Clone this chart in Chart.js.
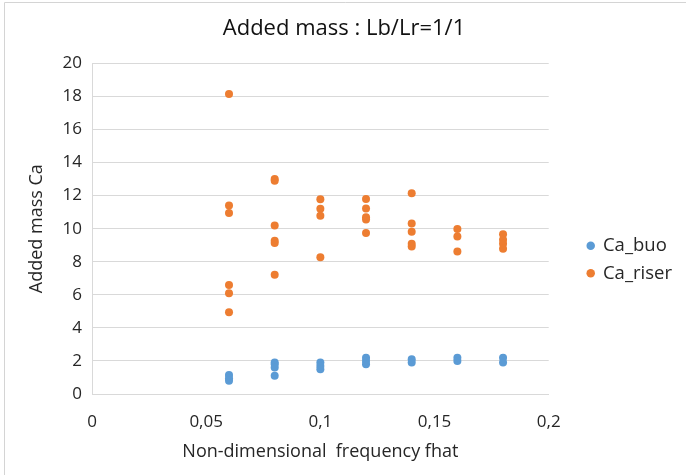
<!DOCTYPE html>
<html>
<head>
<meta charset="utf-8">
<script src="https://cdn.jsdelivr.net/npm/chart.js@4.4.0/dist/chart.umd.min.js"></script>
<style>
	html, body { margin: 0; padding: 0; background: #fff; }
	#wrap { width: 686px; height: 475px; position: relative; }
</style>
</head>
<body>
<div id="wrap"><canvas id="added-mass-chart"></canvas></div>
<script>
// frequencies (fhat) and values
var buoX   = [0.06, 0.06, 0.06, 0.08, 0.08, 0.08, 0.08, 0.1, 0.1, 0.1, 0.12, 0.12, 0.12, 0.14, 0.14, 0.16, 0.16, 0.18, 0.18];
var buoY   = [1.15, 0.95, 0.8, 1.9, 1.8, 1.6, 1.1, 1.9, 1.7, 1.5, 2.2, 2.0, 1.8, 2.1, 1.9, 2.2, 2.0, 2.2, 1.9];
var riserX = [0.06, 0.06, 0.06, 0.06, 0.06, 0.06, 0.08, 0.08, 0.08, 0.08, 0.08, 0.08, 0.1, 0.1, 0.1, 0.1, 0.12, 0.12, 0.12, 0.12, 0.12, 0.14, 0.14, 0.14, 0.14, 0.14, 0.16, 0.16, 0.16, 0.18, 0.18, 0.18, 0.18];
var riserY = [18.15, 11.4, 10.95, 6.6, 6.1, 4.95, 13.0, 12.9, 10.2, 9.27, 9.13, 7.22, 11.78, 11.2, 10.79, 8.28, 11.8, 11.22, 10.7, 10.55, 9.74, 12.15, 10.32, 9.82, 9.09, 8.92, 9.98, 9.53, 8.62, 9.67, 9.33, 9.09, 8.78];
var xTicks = [0, 0.05, 0.1, 0.15, 0.2];
var seriesNames = ['Ca_buo', 'Ca_riser'];
var seriesColours = ['#5B9BD5', '#ED7D31'];

function toPoints(xs, ys){
	var pts = [];
	for (var i = 0; i < xs.length; i++) {
		pts.push({ x: xs[i], y: ys[i] });
	}
	return pts;
}

var fontFamily = "'Open Sans', 'Noto Sans', sans-serif";
var textColour = '#262626';

var datasets = [
	{ label: seriesNames[0], data: toPoints(buoX, buoY) },
	{ label: seriesNames[1], data: toPoints(riserX, riserY) }
];
datasets.forEach(function(ds, i){
	ds.backgroundColor = seriesColours[i];
	ds.borderColor = seriesColours[i];
	ds.pointRadius = 4;
	ds.pointHoverRadius = 5;
	ds.borderWidth = 0;
});

// thin grey frame along top and left edge, like the pasted picture
var framePlugin = {
	id: 'frame',
	beforeDraw: function(chart){
		var c = chart.ctx;
		c.save();
		c.strokeStyle = '#d4d4d4';
		c.lineWidth = 1;
		c.beginPath();
		c.moveTo(4.5, chart.height);
		c.lineTo(4.5, 2.5);
		c.lineTo(chart.width, 2.5);
		c.stroke();
		c.restore();
	}
};

// legend sits further right and lower than chart.js puts it, push it over
// (title too, it is centred on the whole picture)
var legendShiftX = 30;
var legendShiftY = 26;
var titleShiftX = 7;
var legendShiftPlugin = {
	id: 'legendShift',
	afterLayout: function(chart){
		if (chart.legend) {
			chart.legend.left += legendShiftX;
			chart.legend.right += legendShiftX;
			chart.legend.top += legendShiftY;
			chart.legend.bottom += legendShiftY;
		}
		if (chart.titleBlock) {
			chart.titleBlock.left += titleShiftX;
			chart.titleBlock.right += titleShiftX;
		}
	}
};

const ctx = document.getElementById('added-mass-chart');

new Chart(ctx, {
	type: 'scatter',
	data: { datasets: datasets },
	plugins: [framePlugin, legendShiftPlugin],
	options: {
		responsive: true,
		maintainAspectRatio: false,
		animation: false,
		layout: { padding: { left: 22, right: 34, top: 0, bottom: 8 } },
		scales: {
			x: {
				type: 'linear',
				min: 0,
				max: 0.2,
				afterBuildTicks: function(scale){
					scale.ticks = xTicks.map(function(v){ return { value: v }; });
				},
				afterFit: function(scale){ scale.height = 73; },
				grid: { display: false, drawTicks: false },
				border: { display: true, color: '#d9d9d9', width: 1 },
				ticks: {
					color: textColour,
					padding: 18,
					font: { family: fontFamily, size: 17 },
					callback: function(v){ return String(v).replace('.', ','); }
				},
				title: {
					display: true,
					text: 'Non-dimensional  frequency fhat',
					color: textColour,
					font: { family: fontFamily, size: 18 },
					padding: { top: 4 }
				}
			},
			y: {
				min: 0,
				max: 20,
				afterFit: function(scale){ scale.width = 70; },
				ticks: {
					stepSize: 2,
					color: textColour,
					padding: 10,
					font: { family: fontFamily, size: 17 }
				},
				grid: { color: '#d9d9d9', drawTicks: false },
				border: { display: true, color: '#d9d9d9' },
				title: {
					display: true,
					text: 'Added mass Ca',
					color: textColour,
					font: { family: fontFamily, size: 18 },
					padding: { bottom: 4 }
				}
			}
		},
		plugins: {
			title: {
				display: true,
				text: 'Added mass : Lb/Lr=1/1',
				color: '#111',
				font: { family: fontFamily, size: 22, weight: 'normal' },
				padding: { top: 16, bottom: 21 }
			},
			legend: {
				position: 'right',
				labels: {
					usePointStyle: true,
					pointStyle: 'circle',
					boxWidth: 6,
					boxHeight: 6,
					padding: 9,
					color: textColour,
					font: { family: fontFamily, size: 18.5 }
				}
			},
			tooltip: { enabled: false }
		}
	}
});
</script>
</body>
</html>
